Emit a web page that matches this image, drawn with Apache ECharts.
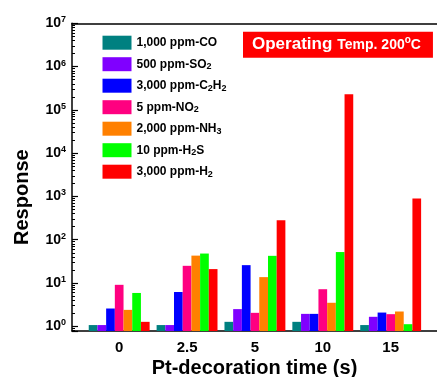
<!DOCTYPE html>
<html>
<head>
<meta charset="utf-8">
<script src="https://cdn.jsdelivr.net/npm/echarts@6/dist/echarts.min.js"></script>
<style>
  html, body { margin: 0; padding: 0; background: #fff; }
  #chart { width: 437px; height: 377px; }
</style>
</head>
<body>
<div id="chart"></div>
<script>
// Pt-decoration time categories
var categories = ['0', '2.5', '5', '10', '15'];

// response values
var coData   = [1.07, 1.07, 1.27, 1.27, 1.07];
var so2Data  = [1.07, 1.07, 2.5, 1.94, 1.66];
var c2h2Data = [2.58, 6.2, 25.9, 1.94, 2.08];
var no2Data  = [9.1, 25, 2.05, 7.2, 1.91];
var nh3Data  = [2.4, 43, 13.7, 3.5, 2.2];
var h2sData  = [5.9, 48, 42.5, 52, 1.12];
var h2Data   = [1.27, 21, 284, 230000, 895];

var seriesNames = ['1,000 ppm-CO', '500 ppm-SO2', '3,000 ppm-C2H2', '5 ppm-NO2',
  '2,000 ppm-NH3', '10 ppm-H2S', '3,000 ppm-H2'];
var legendLabels = ['1,000 ppm-CO', '500 ppm-SO{s|2}', '3,000 ppm-C{s|2}H{s|2}', '5 ppm-NO{s|2}',
  '2,000 ppm-NH{s|3}', '10 ppm-H{s|2}S', '3,000 ppm-H{s|2}'];
var seriesData = [coData, so2Data, c2h2Data, no2Data, nh3Data, h2sData, h2Data];
var colors = ['#008080', '#8000ff', '#0000ff', '#ff0080', '#ff8000', '#00ff00', '#ff0000'];

var FONT = 'Liberation Sans, Arial, sans-serif';
var yMin = 0.78;
var yMax = 1e7;

var chart = echarts.init(document.getElementById('chart'));

var series = seriesNames.map(function (name, i) {
  return {
    name: name,
    type: 'bar',
    xAxisIndex: 2,
    yAxisIndex: 1,
    data: seriesData[i],
    barWidth: 8.7,
    barGap: '0%',
    itemStyle: { color: colors[i] },
    animation: false
  };
});

var axisLineStyle = { color: '#000', width: 1.5 };

chart.setOption({
  animation: false,
  title: {
    text: '{a|Operating} {b|Temp. 200}{sup|o}{b|C}',
    left: 243,
    top: 31.7,
    backgroundColor: '#ff0000',
    padding: [4, 12, 4, 9],
    textStyle: {
      rich: {
        a: { fontFamily: FONT, fontWeight: 'bold', fontSize: 17, color: '#fff', lineHeight: 18 },
        b: { fontFamily: FONT, fontWeight: 'bold', fontSize: 14, color: '#fff', lineHeight: 18 },
        sup: { fontFamily: FONT, fontWeight: 'bold', fontSize: 10, color: '#fff', lineHeight: 6, verticalAlign: 'top' }
      }
    }
  },
  legend: {
    orient: 'vertical',
    left: 102.5,
    top: 35.7,
    padding: 0,
    itemWidth: 29,
    itemHeight: 14,
    itemGap: 7.5,
    icon: 'rect',
    selectedMode: false,
    data: seriesNames,
    formatter: function (name) {
      return legendLabels[seriesNames.indexOf(name)];
    },
    textStyle: {
      fontFamily: FONT,
      fontWeight: 'bold',
      fontSize: 12,
      color: '#000',
      lineHeight: 14,
      rich: {
        s: { fontFamily: FONT, fontWeight: 'bold', fontSize: 9, color: '#000', lineHeight: 6, verticalAlign: 'bottom' }
      }
    }
  },
  grid: [
    { left: 72, right: 0, top: 23.3, bottom: 46, outerBoundsMode: 'none' },       // frame
    { left: 85.25, right: 12.4, top: 23.3, bottom: 46, outerBoundsMode: 'none' }  // bars
  ],
  xAxis: [
    {
      gridIndex: 0, type: 'value', min: 0, max: 1, position: 'bottom',
      axisLine: { lineStyle: axisLineStyle },
      axisTick: { show: false }, axisLabel: { show: false }, splitLine: { show: false },
      name: 'Pt-decoration time (s)',
      nameLocation: 'middle',
      nameGap: 27,
      nameTextStyle: { fontFamily: FONT, fontWeight: 'bold', fontSize: 20, color: '#000' }
    },
    {
      gridIndex: 0, type: 'value', min: 0, max: 1, position: 'top',
      axisLine: { lineStyle: axisLineStyle },
      axisTick: { show: false }, axisLabel: { show: false }, splitLine: { show: false }
    },
    {
      gridIndex: 1, type: 'category', data: categories, position: 'bottom',
      axisLine: { show: false },
      axisTick: { inside: true, length: 3, lineStyle: { color: '#000', width: 1.5 } },
      axisLabel: { fontFamily: FONT, fontWeight: 'bold', fontSize: 15, color: '#000', margin: 9 },
      splitLine: { show: false }
    },
    {
      gridIndex: 1, type: 'category', data: categories, position: 'bottom',
      axisLine: { show: false },
      axisTick: { inside: true, length: 5.5, alignWithLabel: true, lineStyle: { color: '#000', width: 1.5 } },
      axisLabel: { show: false }, splitLine: { show: false }
    },
    {
      gridIndex: 1, type: 'category', data: categories, position: 'top',
      axisLine: { show: false },
      axisTick: { inside: true, length: 3, lineStyle: { color: '#000', width: 1.5 } },
      axisLabel: { show: false }, splitLine: { show: false }
    },
    {
      gridIndex: 1, type: 'category', data: categories, position: 'top',
      axisLine: { show: false },
      axisTick: { inside: true, length: 5.5, alignWithLabel: true, lineStyle: { color: '#000', width: 1.5 } },
      axisLabel: { show: false }, splitLine: { show: false }
    }
  ],
  yAxis: [
    {
      gridIndex: 0, type: 'log', logBase: 10, min: yMin, max: yMax,
      axisLine: { show: true, lineStyle: axisLineStyle },
      axisTick: { show: true, inside: true, length: 6, lineStyle: { color: '#000', width: 1.2 } },
      minorTick: { show: true, splitNumber: 9, length: 3, lineStyle: { color: '#000', width: 1 } },
      splitLine: { show: false },
      axisLabel: {
        margin: 6,
        formatter: function (v) {
          if (v < 1) return '';
          return '{b|10}{s|' + Math.round(Math.log10(v)) + '}';
        },
        rich: {
          b: { fontFamily: FONT, fontWeight: 'bold', fontSize: 14, color: '#000', lineHeight: 16 },
          s: { fontFamily: FONT, fontWeight: 'bold', fontSize: 9, color: '#000', lineHeight: 4, verticalAlign: 'top' }
        }
      },
      name: 'Response',
      nameLocation: 'middle',
      nameGap: 40,
      nameTextStyle: { fontFamily: FONT, fontWeight: 'bold', fontSize: 20, color: '#000', padding: [0, 40, 0, 0] }
    },
    {
      gridIndex: 1, type: 'log', logBase: 10, min: yMin, max: yMax, startValue: yMin,
      show: false
    }
  ],
  series: series
});
</script>
</body>
</html>
